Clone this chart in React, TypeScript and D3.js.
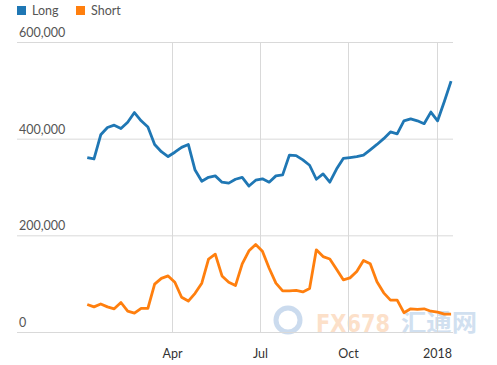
import React, { useEffect, useRef } from 'react';
import * as d3 from 'd3';

// weekly report dates (Tuesdays), Jan 3 2017 - Jan 16 2018
const firstWeek = new Date(2017, 0, 3);

const longValues = [
  361, 358, 408, 423, 428, 421, 434, 454, 437, 424, 388, 373, 363, 372, 382, 388,
  335, 312, 320, 323, 310, 308, 316, 320, 302, 314, 317, 310, 323, 325, 366, 365,
  356, 345, 316, 327, 310, 337, 359, 361, 363, 366, 377, 388, 400, 414, 410, 437,
  441, 437, 431, 455, 437, 477, 519,
].map(v => v * 1000);

const shortValues = [
  57, 52, 58, 52, 48, 61, 43, 39, 49, 49, 99, 111, 116, 103, 72, 64,
  80, 101, 151, 161, 116, 103, 96, 141, 168, 181, 167, 132, 101, 85, 85, 86,
  83, 90, 170, 156, 151, 130, 108, 112, 125, 148, 141, 104, 81, 66, 66, 40,
  48, 47, 48, 43, 41, 37, 37,
].map(v => v * 1000);

const weeks: Date[] = longValues.map((_, i) => d3.timeDay.offset(firstWeek, 7 * i));

const yTicks = [0, 200000, 400000, 600000];
const xTicks = [new Date(2017, 3, 1), new Date(2017, 6, 1), new Date(2017, 9, 1), new Date(2018, 0, 1)];
const xTickLabels = ['Apr', 'Jul', 'Oct', '2018'];

const seriesNames = ['Long', 'Short'];
const seriesColors = ['#1f77b4', '#ff7f0e'];

const width = 497;
const height = 365;

const App: React.FC = () => {
  const svgRef = useRef<SVGSVGElement>(null);

  useEffect(() => {
    if (!svgRef.current) return;
    const svg = d3.select(svgRef.current);
    svg.selectAll('*').remove();

    const left = 17;
    const right = 453;
    const top = 42;
    const bottom = 332;

    const x = d3.scaleTime()
      .domain([new Date(2016, 9, 22), new Date(2018, 0, 18)])
      .range([left, right]);
    const y = d3.scaleLinear().domain([0, 600000]).range([bottom, top]);

    const font = 'Lato, "Open Sans", sans-serif';

    // legend
    seriesNames.forEach((name, i) => {
      const lx = i === 0 ? 17 : 76;
      svg.append('rect').attr('x', lx).attr('y', 6).attr('width', 9).attr('height', 9)
        .attr('fill', seriesColors[i]);
      svg.append('text').attr('x', lx + 15).attr('y', 15)
        .attr('font-family', font).attr('font-size', 12.5).attr('fill', '#555')
        .text(name);
    });

    // watermark
    const wm = svg.append('g').attr('opacity', 0.4);
    wm.append('circle').attr('cx', 288).attr('cy', 320).attr('r', 12)
      .attr('fill', 'none').attr('stroke', '#7fa7d6').attr('stroke-width', 5);
    wm.append('text').attr('x', 316).attr('y', 332)
      .attr('font-family', '"DejaVu Sans", sans-serif').attr('font-weight', 'bold').attr('font-size', 24)
      .attr('textLength', 74).attr('lengthAdjust', 'spacingAndGlyphs')
      .attr('fill', '#f8b27a').text('FX678');
    wm.append('text').attr('x', 401).attr('y', 331)
      .attr('font-family', '"Noto Sans CJK SC", sans-serif').attr('font-weight', 'bold').attr('font-size', 24)
      .attr('textLength', 76).attr('lengthAdjust', 'spacingAndGlyphs')
      .attr('fill', '#8fb4dc').text('汇通网');

    // horizontal grid + labels
    yTicks.forEach(t => {
      svg.append('line')
        .attr('x1', left).attr('x2', right)
        .attr('y1', y(t) + 0.5).attr('y2', y(t) + 0.5)
        .attr('stroke', '#d9d9d9').attr('stroke-width', 1);
      svg.append('text')
        .attr('x', 19).attr('y', y(t) - 5)
        .attr('font-family', font).attr('font-size', 12.5).attr('fill', '#555')
        .text(d3.format(',')(t));
    });

    // vertical grid + labels
    xTicks.forEach((t, i) => {
      const xp = Math.round(x(t)) + 0.5;
      svg.append('line')
        .attr('x1', xp).attr('x2', xp).attr('y1', top).attr('y2', bottom)
        .attr('stroke', '#d9d9d9').attr('stroke-width', 1);
      svg.append('text')
        .attr('x', xp).attr('y', 358).attr('text-anchor', 'middle')
        .attr('font-family', font).attr('font-size', 12.5).attr('fill', '#333')
        .text(xTickLabels[i]);
    });

    const line = d3.line<number>()
      .x((_, i) => x(weeks[i]))
      .y(d => y(d));

    [longValues, shortValues].forEach((vals, i) => {
      svg.append('path')
        .datum(vals)
        .attr('fill', 'none')
        .attr('stroke', seriesColors[i])
        .attr('stroke-width', 2.8)
        .attr('stroke-linejoin', 'round')
        .attr('d', line);
    });
  }, []);

  return (
    <div style={{ position: 'absolute', left: 0, top: 0, width, height, background: '#fff' }}>
      <svg ref={svgRef} width={width} height={height} />
    </div>
  );
};

export default App;
